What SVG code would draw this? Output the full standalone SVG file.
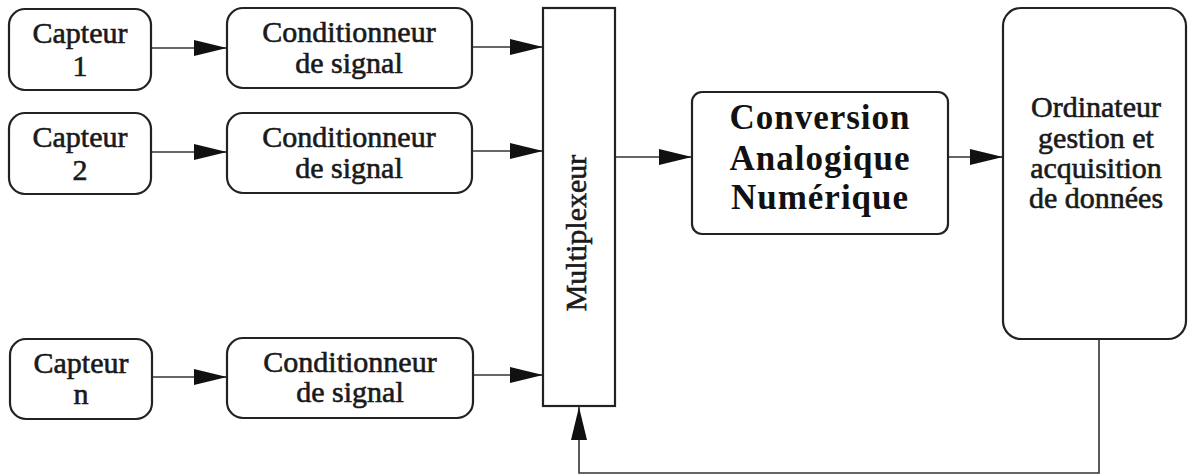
<svg xmlns="http://www.w3.org/2000/svg" width="1188" height="475" viewBox="0 0 1188 475">
<style>
.box{fill:#fff;stroke:#222;stroke-width:2.2}
.ln{fill:none;stroke:#333;stroke-width:1.6}
.t{font-family:"Liberation Serif","Times New Roman",serif;font-size:30px;fill:#1a1a1a;stroke:#1a1a1a;stroke-width:0.6;text-anchor:middle}
.tb{font-family:"Liberation Serif","Times New Roman",serif;font-size:35px;font-weight:bold;letter-spacing:1px;fill:#111;text-anchor:middle}
</style>
<defs>
<marker id="ah" markerUnits="userSpaceOnUse" markerWidth="34" markerHeight="18" refX="33" refY="8" orient="auto">
<path d="M0,0 L33,8 L0,16 Z" fill="#111"/>
</marker>
</defs>
<rect width="1188" height="475" fill="#fff"/>
<g id="connectors">
<line class="ln" x1="151" y1="48" x2="227" y2="48" marker-end="url(#ah)"/>
<line class="ln" x1="151" y1="152" x2="227" y2="152" marker-end="url(#ah)"/>
<line class="ln" x1="152" y1="377" x2="227" y2="377" marker-end="url(#ah)"/>
<line class="ln" x1="472" y1="47" x2="543" y2="47" marker-end="url(#ah)"/>
<line class="ln" x1="472" y1="151" x2="543" y2="151" marker-end="url(#ah)"/>
<line class="ln" x1="473" y1="375" x2="543" y2="375" marker-end="url(#ah)"/>
<line class="ln" x1="615" y1="157" x2="692" y2="157" marker-end="url(#ah)"/>
<line class="ln" x1="948" y1="157" x2="1003" y2="157" marker-end="url(#ah)"/>
<polyline class="ln" points="1099,339 1099,473 579,473 579,407" marker-end="url(#ah)"/>
</g>
<g id="capteur1">
<rect class="box" x="9" y="9" width="142" height="81" rx="16"/>
<text class="t" x="80" y="43">Capteur</text>
<text class="t" x="80" y="76">1</text>
</g>
<g id="capteur2">
<rect class="box" x="9" y="113" width="142" height="81" rx="16"/>
<text class="t" x="80" y="147">Capteur</text>
<text class="t" x="80" y="180">2</text>
</g>
<g id="capteurn">
<rect class="box" x="10" y="339" width="142" height="80" rx="16"/>
<text class="t" x="81" y="373">Capteur</text>
<text class="t" x="81" y="404">n</text>
</g>
<g id="cond1">
<rect class="box" x="227" y="8" width="245" height="80" rx="16"/>
<text class="t" x="349" y="42">Conditionneur</text>
<text class="t" x="349" y="73">de signal</text>
</g>
<g id="cond2">
<rect class="box" x="227" y="113" width="245" height="80" rx="16"/>
<text class="t" x="349" y="147">Conditionneur</text>
<text class="t" x="349" y="178">de signal</text>
</g>
<g id="condn">
<rect class="box" x="227" y="338" width="246" height="80" rx="16"/>
<text class="t" x="350" y="372">Conditionneur</text>
<text class="t" x="350" y="402">de signal</text>
</g>
<g id="multiplexeur">
<rect class="box" x="543" y="8" width="72" height="398"/>
<text class="t" transform="translate(586,233) rotate(-90)">Multiplexeur</text>
</g>
<g id="can">
<rect class="box" x="692" y="92" width="256" height="142" rx="10"/>
<text class="tb" x="820" y="129">Conversion</text>
<text class="tb" x="820" y="170">Analogique</text>
<text class="tb" x="820" y="209">Numérique</text>
</g>
<g id="ordinateur">
<rect class="box" x="1003" y="8" width="183" height="331" rx="18"/>
<text class="t" x="1096" y="117">Ordinateur</text>
<text class="t" x="1096" y="148">gestion et</text>
<text class="t" x="1096" y="178">acquisition</text>
<text class="t" x="1096" y="208">de données</text>
</g>
</svg>
